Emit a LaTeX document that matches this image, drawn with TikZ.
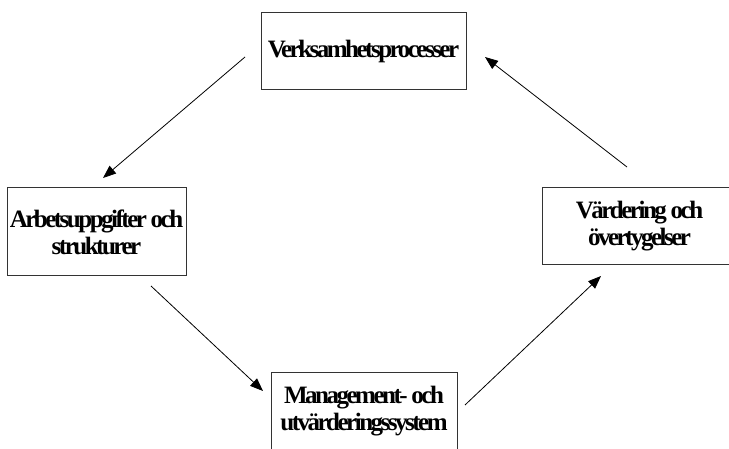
\documentclass[tikz,border=0pt]{standalone}
\usepackage{fontspec}
\setmainfont{Liberation Serif}[LetterSpace=-10]
\usetikzlibrary{arrows.meta}
\begin{document}
\begin{tikzpicture}[x=1pt,y=-1pt,
  box/.style={draw=black!80, line width=1pt, align=center, inner sep=0pt,
    font=\fontsize{25}{27}\selectfont\bfseries},
  flow/.style={line width=0.8pt, -{Triangle[length=13pt,width=10pt]}}]
  \useasboundingbox (0,0) rectangle (729,449);
  \clip (0,0) rectangle (729,449);
  % the four boxes
  \node[box, minimum width=205pt, minimum height=77pt] (proc) at (363.5,51.5) {Verksamhetsprocesser};
  \node[box, minimum width=179pt, minimum height=88pt] (task) at (96.5,232) {Arbetsuppgifter och\\strukturer};
  \node[box, minimum width=195pt, minimum height=77pt] (vals) at (639.5,226.5) {Värdering och\\övertygelser};
  \node[box, minimum width=186pt, minimum height=77pt] (mgmt) at (364,411.5) {Management- och\\utvärderingssystem};
  % arrow end points, set off from the boxes
  \coordinate (p1) at (245,57);   \coordinate (q1) at (103,178);
  \coordinate (p2) at (151,286);  \coordinate (q2) at (263,391);
  \coordinate (p3) at (465,405);  \coordinate (q3) at (601,276);
  \coordinate (p4) at (627,167);  \coordinate (q4) at (485,57);
  \draw[flow] (p1) -- (q1);
  \draw[flow] (p2) -- (q2);
  \draw[flow] (p3) -- (q3);
  \draw[flow] (p4) -- (q4);
\end{tikzpicture}
\end{document}
